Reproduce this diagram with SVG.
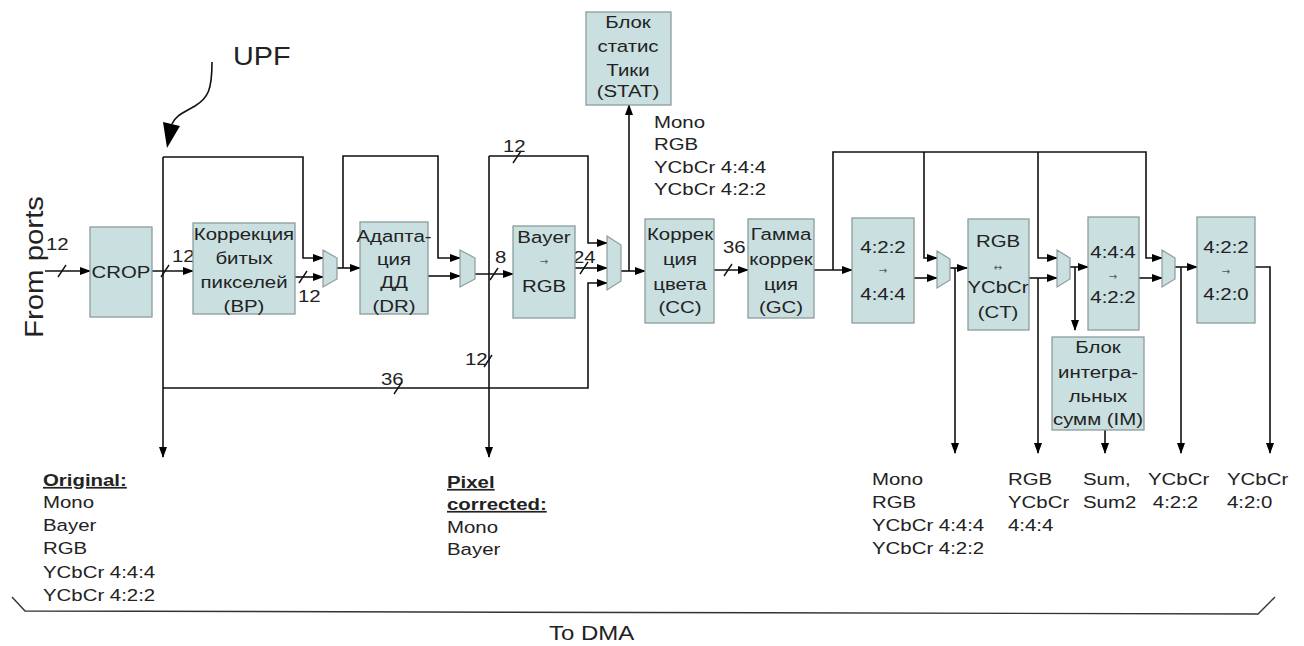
<svg xmlns="http://www.w3.org/2000/svg" width="1304" height="646" viewBox="0 0 1304 646">
<defs>
<marker id="ah" markerUnits="userSpaceOnUse" markerWidth="11" markerHeight="8" refX="10" refY="4" orient="auto">
<path d="M0,0 L11,4 L0,8 z" fill="#000"/>
</marker>
<style>
.box{fill:#c9dfe0;stroke:#8c9c9c;stroke-width:1.3}
.mux{fill:#c9dfe0;stroke:#8c9c9c;stroke-width:1.2}
.ln{fill:none;stroke:#111;stroke-width:1.6}
.ar{marker-end:url(#ah)}
.sl{stroke:#111;stroke-width:1.4;fill:none}
.t{font-family:"Liberation Sans",Arial,sans-serif;font-size:17px;fill:#222}
.c{text-anchor:middle}
.sm{font-family:"DejaVu Sans",sans-serif;font-size:10px;fill:#555;text-anchor:middle}
.b{font-weight:bold;text-decoration:underline}
</style>
</defs>
<rect width="1304" height="646" fill="#fff"/>

<g id="connectors">
<path class="ln ar" d="M45,271 H90"/>
<path class="ln ar" d="M152,271 H193"/>
<path class="ln ar" d="M163,157 V457"/>
<path class="ln ar" d="M163,157 H303 V258 H323"/>
<path class="ln ar" d="M163,388 H588 V283 H607"/>
<path class="ln ar" d="M295,277 H323"/>
<path class="ln ar" d="M337,268 H360"/>
<path class="ln ar" d="M343,268 V156 H438 V258 H460"/>
<path class="ln ar" d="M428,276 H460"/>
<path class="ln ar" d="M475,274 H513"/>
<path class="ln ar" d="M489,156 V457"/>
<path class="ln ar" d="M489,156 H588 V243 H607"/>
<path class="ln ar" d="M575,268 H607"/>
<path class="ln ar" d="M621,271 H645"/>
<path class="ln ar" d="M629,271 V105"/>
<path class="ln ar" d="M714,270 H748"/>
<path class="ln ar" d="M814,270 H852"/>
<path class="ln ar" d="M833,270 V152 H1146 V258 H1162"/>
<path class="ln ar" d="M924,152 V258 H937"/>
<path class="ln ar" d="M1038,152 V258 H1057"/>
<path class="ln ar" d="M914,278 H937"/>
<path class="ln ar" d="M950,268 H967"/>
<path class="ln ar" d="M955,268 V453"/>
<path class="ln ar" d="M1029,278 H1057"/>
<path class="ln ar" d="M1038,278 V453"/>
<path class="ln ar" d="M1070,267 H1088"/>
<path class="ln ar" d="M1075,267 V330"/>
<path class="ln ar" d="M1139,278 H1162"/>
<path class="ln ar" d="M1175,267 H1197"/>
<path class="ln ar" d="M1181,267 V453"/>
<path class="ln ar" d="M1255,267 H1270 V453"/>
<path class="ln ar" d="M1105,430 V453"/>
<!-- bus slashes -->
<path class="sl" d="M58,277 L66,265"/>
<path class="sl" d="M161,277 L169,265"/>
<path class="sl" d="M299,283 L307,271"/>
<path class="sl" d="M513,163 L521,151"/>
<path class="sl" d="M490,280 L498,268"/>
<path class="sl" d="M580,274 L588,262"/>
<path class="sl" d="M484,367 L492,355"/>
<path class="sl" d="M394,394 L402,382"/>
<path class="sl" d="M724,276 L732,264"/>
<!-- UPF arrow -->
<path class="ln" d="M212,62 C212,90 208,98 195,106 C183,113 175,116 172,124" stroke-width="1.3"/>
<polygon points="163,122 180,126 167,148" fill="#000"/>
<!-- To DMA bracket -->
<polyline points="12,597 25,611 1258,614 1275,597" fill="none" stroke="#333" stroke-width="1.4"/>
</g>

<g id="bus-labels" class="t">
<text transform="matrix(1.2 0 0 1 46 250)">12</text>
<text transform="matrix(1.2 0 0 1 172 262)">12</text>
<text transform="matrix(1.2 0 0 1 298 302)">12</text>
<text transform="matrix(1.2 0 0 1 503 152)">12</text>
<text transform="matrix(1.2 0 0 1 495 263)">8</text>
<text transform="matrix(1.2 0 0 1 573 263)">24</text>
<text transform="matrix(1.2 0 0 1 465 365)">12</text>
<text transform="matrix(1.2 0 0 1 381 385)">36</text>
<text transform="matrix(1.2 0 0 1 723 253)">36</text>
</g>

<g id="upf"><text class="t" style="font-size:25px" transform="matrix(1.15 0 0 1 233 65)">UPF</text></g>
<g id="from-ports"><text class="t" style="font-size:25px" transform="translate(43,338) rotate(-90)" textLength="142" lengthAdjust="spacingAndGlyphs">From ports</text></g>

<g id="crop"><rect class="box" x="90" y="227" width="62" height="90"/>
<text class="t c" transform="matrix(1.2 0 0 1 121 278)">CROP</text></g>

<g id="bp"><rect class="box" x="193" y="223" width="102" height="91"/>
<text class="t c" transform="matrix(1.2 0 0 1 244 240)"><tspan x="0" y="0">Коррекция</tspan><tspan x="0" y="24">битых</tspan><tspan x="0" y="48">пикселей</tspan><tspan x="0" y="72">(BP)</tspan></text></g>

<g id="mux1"><polygon class="mux" points="323,250 337,258 337,279 323,287"/></g>

<g id="dr"><rect class="box" x="360" y="222" width="68" height="92"/>
<text class="t c" transform="matrix(1.2 0 0 1 394 242)"><tspan x="0" y="0">Адапта-</tspan><tspan x="0" y="23">ция</tspan><tspan x="0" y="46">ДД</tspan><tspan x="0" y="70">(DR)</tspan></text></g>

<g id="mux2"><polygon class="mux" points="460,250 475,258 475,279 460,287"/></g>

<g id="bayer"><rect class="box" x="513" y="226" width="62" height="92"/>
<text class="t c" transform="matrix(1.2 0 0 1 544 243)"><tspan x="0" y="0">Bayer</tspan><tspan x="0" y="49">RGB</tspan></text>
<text class="sm" x="544" y="265">→</text></g>

<g id="mux3"><polygon class="mux" points="607,236 621,245 621,281 607,290"/></g>

<g id="stat"><rect class="box" x="586" y="12" width="85" height="93"/>
<text class="t c" transform="matrix(1.2 0 0 1 628 28)"><tspan x="0" y="0">Блок</tspan><tspan x="0" y="24">статис</tspan><tspan x="0" y="48">Тики</tspan><tspan x="0" y="69">(STAT)</tspan></text></g>

<g id="stat-label"><text class="t" transform="matrix(1.2 0 0 1 654 128)"><tspan x="0" y="0">Mono</tspan><tspan x="0" y="22">RGB</tspan><tspan x="0" y="45">YCbCr 4:4:4</tspan><tspan x="0" y="67">YCbCr 4:2:2</tspan></text></g>

<g id="cc"><rect class="box" x="645" y="219" width="69" height="104"/>
<text class="t c" transform="matrix(1.2 0 0 1 680 240)"><tspan x="0" y="0">Коррек</tspan><tspan x="0" y="25">ция</tspan><tspan x="0" y="50">цвета</tspan><tspan x="0" y="73">(CC)</tspan></text></g>

<g id="gc"><rect class="box" x="748" y="219" width="66" height="99"/>
<text class="t c" transform="matrix(1.2 0 0 1 781 240)"><tspan x="0" y="0">Гамма</tspan><tspan x="0" y="25">коррек</tspan><tspan x="0" y="50">ция</tspan><tspan x="0" y="73">(GC)</tspan></text></g>

<g id="c422-444"><rect class="box" x="852" y="218" width="62" height="105"/>
<text class="t c" transform="matrix(1.2 0 0 1 883 253)"><tspan x="0" y="0">4:2:2</tspan><tspan x="0" y="47">4:4:4</tspan></text>
<text class="sm" x="883" y="274">→</text></g>

<g id="mux4"><polygon class="mux" points="937,251 950,259 950,280 937,288"/></g>

<g id="ct"><rect class="box" x="968" y="219" width="61" height="111"/>
<text class="t c" transform="matrix(1.2 0 0 1 998 247)"><tspan x="0" y="0">RGB</tspan><tspan x="0" y="46">YCbCr</tspan><tspan x="0" y="71">(CT)</tspan></text>
<text class="sm" x="998" y="271">↔</text></g>

<g id="mux5"><polygon class="mux" points="1057,250 1070,258 1070,279 1057,287"/></g>

<g id="c444-422"><rect class="box" x="1088" y="217" width="51" height="113"/>
<text class="t c" transform="matrix(1.2 0 0 1 1113 258)"><tspan x="0" y="0">4:4:4</tspan><tspan x="0" y="45">4:2:2</tspan></text>
<text class="sm" x="1113" y="280">→</text></g>

<g id="mux6"><polygon class="mux" points="1162,250 1175,258 1175,279 1162,287"/></g>

<g id="c422-420"><rect class="box" x="1197" y="217" width="58" height="106"/>
<text class="t c" transform="matrix(1.2 0 0 1 1226 253)"><tspan x="0" y="0">4:2:2</tspan><tspan x="0" y="47">4:2:0</tspan></text>
<text class="sm" x="1226" y="275">→</text></g>

<g id="im"><rect class="box" x="1052" y="337" width="92" height="93"/>
<text class="t c" transform="matrix(1.2 0 0 1 1098 353)"><tspan x="0" y="0">Блок</tspan><tspan x="0" y="25">интегра-</tspan><tspan x="0" y="49">льных</tspan><tspan x="0" y="72">сумм (IM)</tspan></text></g>

<g id="out-original"><text class="t" transform="matrix(1.2 0 0 1 43 486)"><tspan x="0" y="0" class="b">Original:</tspan><tspan x="0" y="22">Mono</tspan><tspan x="0" y="45">Bayer</tspan><tspan x="0" y="68">RGB</tspan><tspan x="0" y="92">YCbCr 4:4:4</tspan><tspan x="0" y="115">YCbCr 4:2:2</tspan></text></g>

<g id="out-pixel"><text class="t" transform="matrix(1.2 0 0 1 447 488)"><tspan x="0" y="0" class="b">Pixel</tspan><tspan x="0" y="22" class="b">corrected:</tspan><tspan x="0" y="45">Mono</tspan><tspan x="0" y="67">Bayer</tspan></text></g>

<g id="out-gc"><text class="t" transform="matrix(1.2 0 0 1 872 485)"><tspan x="0" y="0">Mono</tspan><tspan x="0" y="23">RGB</tspan><tspan x="0" y="46">YCbCr 4:4:4</tspan><tspan x="0" y="69">YCbCr 4:2:2</tspan></text></g>

<g id="out-ct"><text class="t" transform="matrix(1.2 0 0 1 1008 485)"><tspan x="0" y="0">RGB</tspan><tspan x="0" y="23">YCbCr</tspan><tspan x="0" y="46">4:4:4</tspan></text></g>

<g id="out-im"><text class="t" transform="matrix(1.2 0 0 1 1083 485)"><tspan x="0" y="0">Sum,</tspan><tspan x="0" y="23">Sum2</tspan></text></g>

<g id="out-422"><text class="t" transform="matrix(1.2 0 0 1 1148 485)"><tspan x="0" y="0">YCbCr</tspan><tspan x="4" y="23">4:2:2</tspan></text></g>

<g id="out-420"><text class="t" transform="matrix(1.2 0 0 1 1227 485)"><tspan x="0" y="0">YCbCr</tspan><tspan x="0" y="23">4:2:0</tspan></text></g>

<g id="to-dma"><text class="t" style="font-size:20px" transform="matrix(1.2 0 0 1 549 640)">To DMA</text></g>
</svg>
